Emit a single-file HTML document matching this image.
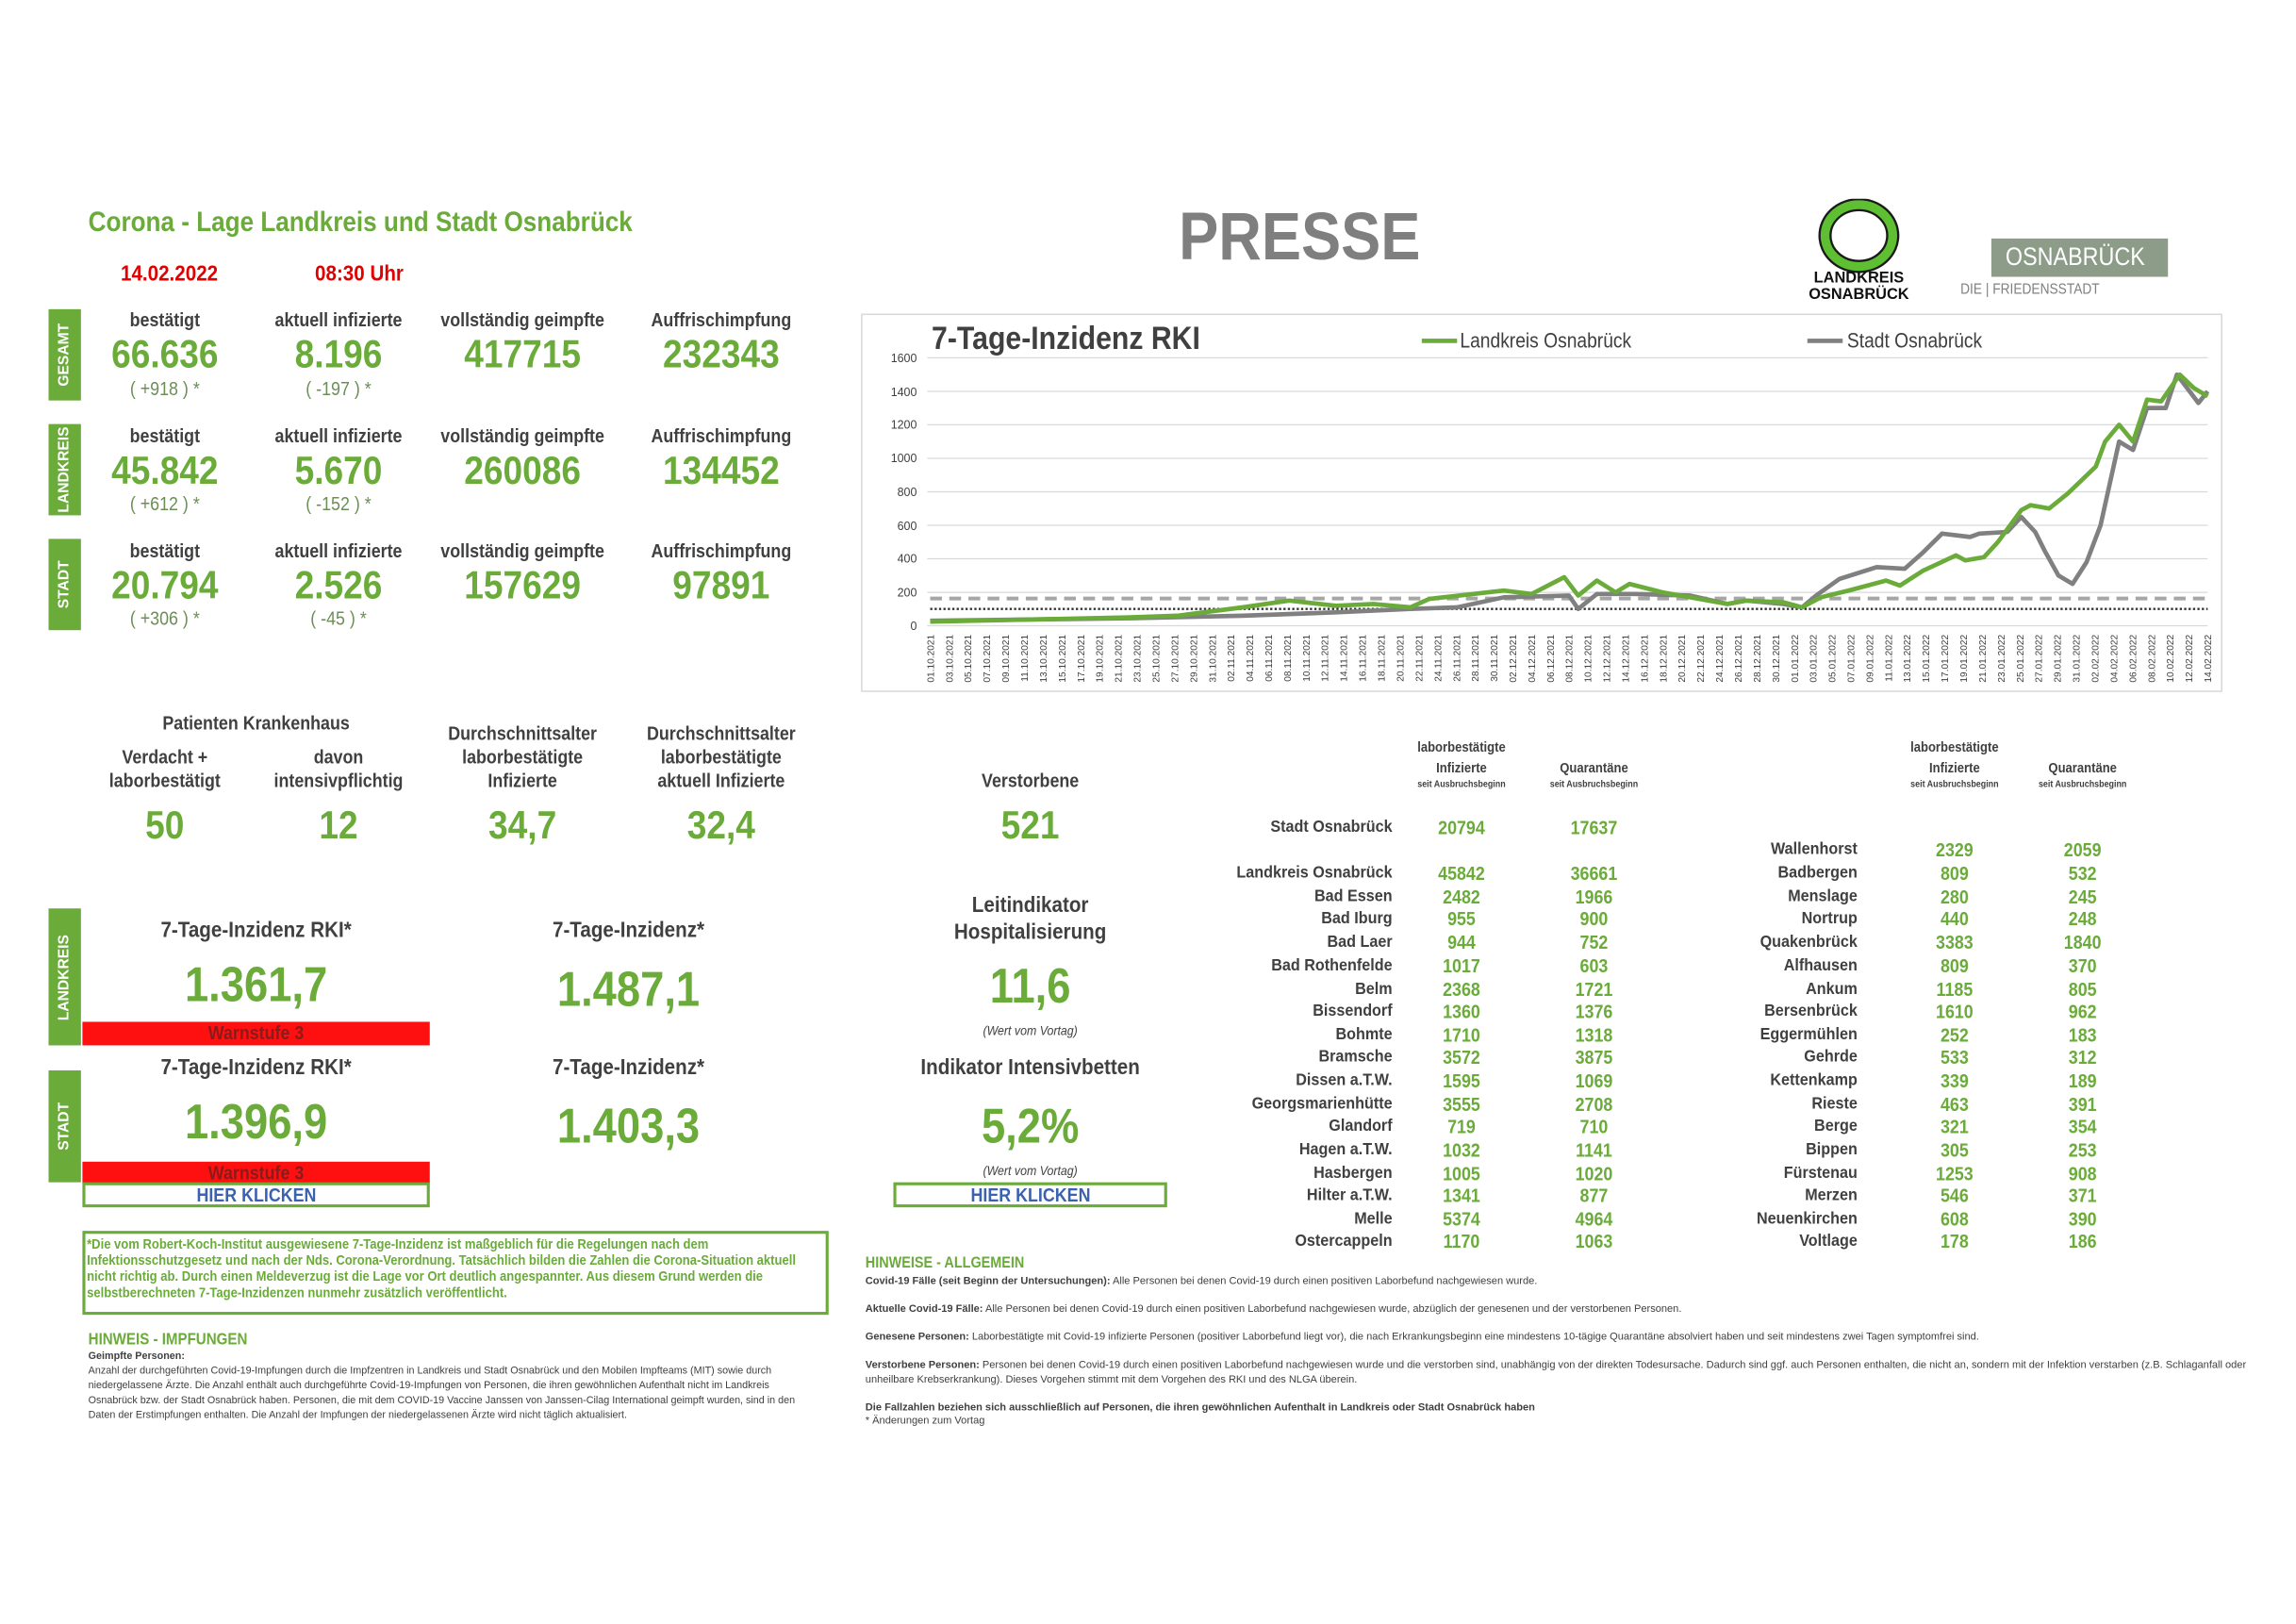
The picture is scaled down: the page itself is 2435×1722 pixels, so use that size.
<!DOCTYPE html>
<html><head><meta charset="utf-8"><style>
html,body{margin:0;padding:0;background:#fff;}
body{width:2435px;height:1722px;overflow:hidden;position:relative;}
#w{position:absolute;left:0;top:0;width:1560px;height:1103px;transform:scale(1.5609,1.5612);transform-origin:0 0;font-family:"Liberation Sans",Arial,sans-serif;}
.t{position:absolute;white-space:nowrap;transform:translate(-50%,-50%) scaleX(.88);}
.l{position:absolute;white-space:nowrap;transform:translate(0,-50%) scaleX(.88);transform-origin:0 50%;}
.r{position:absolute;white-space:nowrap;transform:translate(-100%,-50%) scaleX(.9);transform-origin:100% 50%;}
.g{color:#6aab3a;font-weight:bold;}
.h{color:#404040;font-weight:bold;font-size:13px;}
.v{color:#6aab3a;font-weight:bold;font-size:27px;}
.d{color:#6b8f55;font-size:13px;}
.bar{position:absolute;background:#6aab3a;width:22px;}
.bar span{position:absolute;left:50%;top:50%;transform:translate(-50%,-50%) rotate(-90deg);color:#fff;font-weight:bold;font-size:10px;white-space:nowrap;}
.n{color:#404040;font-weight:bold;font-size:11.5px;}
.nv{color:#6aab3a;font-weight:bold;font-size:13px;}
.sm{color:#404040;font-size:7.5px;}
.hk{position:absolute;border:2px solid #6aab3a;box-sizing:border-box;text-align:center;color:#3a62b0;font-weight:bold;font-size:13px;text-decoration:underline;line-height:13px;}
.red{position:absolute;background:#ff1010;text-align:center;color:#8b1a1a;font-weight:bold;font-size:13px;line-height:16px;}
</style></head><body><div id="w">

<div class="l g" style="left:60px;top:152px;font-size:19px;">Corona - Lage Landkreis und Stadt Osnabrück</div>
<div class="l" style="left:82px;top:186px;font-size:15px;color:#e00000;font-weight:bold;">14.02.2022</div>
<div class="l" style="left:214px;top:186px;font-size:15px;color:#e00000;font-weight:bold;">08:30 Uhr</div>

<div class="bar" style="left:33px;top:210px;height:62px;"><span>GESAMT</span></div>
<div class="bar" style="left:33px;top:288px;height:62px;"><span>LANDKREIS</span></div>
<div class="bar" style="left:33px;top:366px;height:62px;"><span>STADT</span></div>

<div class="t h" style="left:112px;top:217px;">bestätigt</div>
<div class="t h" style="left:230px;top:217px;">aktuell infizierte</div>
<div class="t h" style="left:355px;top:217px;">vollständig geimpfte</div>
<div class="t h" style="left:490px;top:217px;">Auffrischimpfung</div>
<div class="t v" style="left:112px;top:241px;">66.636</div>
<div class="t v" style="left:230px;top:241px;">8.196</div>
<div class="t v" style="left:355px;top:241px;">417715</div>
<div class="t v" style="left:490px;top:241px;">232343</div>
<div class="t d" style="left:112px;top:264px;">( +918 ) *</div>
<div class="t d" style="left:230px;top:264px;">( -197 ) *</div>

<div class="t h" style="left:112px;top:296px;">bestätigt</div>
<div class="t h" style="left:230px;top:296px;">aktuell infizierte</div>
<div class="t h" style="left:355px;top:296px;">vollständig geimpfte</div>
<div class="t h" style="left:490px;top:296px;">Auffrischimpfung</div>
<div class="t v" style="left:112px;top:320px;">45.842</div>
<div class="t v" style="left:230px;top:320px;">5.670</div>
<div class="t v" style="left:355px;top:320px;">260086</div>
<div class="t v" style="left:490px;top:320px;">134452</div>
<div class="t d" style="left:112px;top:342px;">( +612 ) *</div>
<div class="t d" style="left:230px;top:342px;">( -152 ) *</div>

<div class="t h" style="left:112px;top:374px;">bestätigt</div>
<div class="t h" style="left:230px;top:374px;">aktuell infizierte</div>
<div class="t h" style="left:355px;top:374px;">vollständig geimpfte</div>
<div class="t h" style="left:490px;top:374px;">Auffrischimpfung</div>
<div class="t v" style="left:112px;top:398px;">20.794</div>
<div class="t v" style="left:230px;top:398px;">2.526</div>
<div class="t v" style="left:355px;top:398px;">157629</div>
<div class="t v" style="left:490px;top:398px;">97891</div>
<div class="t d" style="left:112px;top:420px;">( +306 ) *</div>
<div class="t d" style="left:230px;top:420px;">( -45 ) *</div>

<div class="t" style="left:883px;top:160px;font-size:46px;font-weight:bold;color:#7f7f7f;">PRESSE</div>

<svg style="position:absolute;left:1225px;top:135px;" width="80" height="75">
<ellipse cx="38" cy="25" rx="23" ry="21" fill="none" stroke="#1a1a1a" stroke-width="9"/>
<ellipse cx="38" cy="25" rx="23" ry="21" fill="none" stroke="#5fbf32" stroke-width="6"/>
<text x="38" y="57" text-anchor="middle" font-family="Liberation Sans" font-weight="bold" font-size="10.5" fill="#111">LANDKREIS</text>
<text x="38" y="68" text-anchor="middle" font-family="Liberation Sans" font-weight="bold" font-size="10.5" fill="#111">OSNABRÜCK</text>
</svg>
<div style="position:absolute;left:1353px;top:162px;width:120px;height:26px;background:#8c9c88;"></div>
<div class="t" style="left:1410px;top:175px;font-size:17px;color:#fff;">OSNABRÜCK</div>
<div class="l" style="left:1332px;top:197px;font-size:10px;color:#808080;">DIE | FRIEDENSSTADT</div>

<!-- chart -->
<div style="position:absolute;left:585px;top:213px;width:925px;height:257px;border:1px solid #d9d9d9;box-sizing:border-box;"></div>
<div class="l" style="left:633px;top:230px;font-size:22px;font-weight:bold;color:#404040;">7-Tage-Inzidenz RKI</div>
<div style="position:absolute;left:966px;top:230px;width:24px;height:3px;background:#6aab3a;"></div>
<div class="l" style="left:992px;top:231px;font-size:14px;color:#404040;">Landkreis Osnabrück</div>
<div style="position:absolute;left:1228px;top:230px;width:24px;height:3px;background:#808080;"></div>
<div class="l" style="left:1255px;top:231px;font-size:14px;color:#404040;">Stadt Osnabrück</div>
<svg style="position:absolute;left:0;top:0;" width="1560" height="480" font-family="Liberation Sans">
<g stroke="#d9d9d9" stroke-width="0.8">
<line x1="630" x2="1500" y1="243" y2="243"/><line x1="630" x2="1500" y1="265.8" y2="265.8"/><line x1="630" x2="1500" y1="288.5" y2="288.5"/><line x1="630" x2="1500" y1="311.3" y2="311.3"/><line x1="630" x2="1500" y1="334" y2="334"/><line x1="630" x2="1500" y1="356.8" y2="356.8"/><line x1="630" x2="1500" y1="379.5" y2="379.5"/><line x1="630" x2="1500" y1="402.3" y2="402.3"/><line x1="630" x2="1500" y1="425" y2="425"/>
</g>
<g font-size="8" fill="#404040" text-anchor="end">
<text x="623" y="246">1600</text><text x="623" y="269">1400</text><text x="623" y="291">1200</text><text x="623" y="314">1000</text><text x="623" y="337">800</text><text x="623" y="360">600</text><text x="623" y="382">400</text><text x="623" y="405">200</text><text x="623" y="428">0</text>
</g>
<line x1="632" x2="1500" y1="406.5" y2="406.5" stroke="#a6a6a6" stroke-width="2.5" stroke-dasharray="8,5"/>
<line x1="632" x2="1500" y1="413.6" y2="413.6" stroke="#333" stroke-width="1.5" stroke-dasharray="1.5,1.5"/>
<polyline fill="none" stroke="#808080" stroke-width="3" stroke-linejoin="round" points="632,421.6 768.2,419.9 844.3,418.2 907.6,415.9 958.3,413.6 990,412.5 1021.7,405.7 1066,404.5 1072.3,413.6 1085,403.4 1110.4,403.4 1148.4,404.5 1173.7,410.2 1186.4,407.9 1211.7,410.2 1224.4,412.5 1233.9,404.5 1249.8,393.2 1275.1,385.2 1294.1,386.3 1306.8,375 1319.5,362.4 1338.5,364.7 1344.8,362.4 1363.8,361.3 1373.3,351.1 1382.8,361.3 1389.1,373.8 1398.6,390.9 1408.2,396.6 1417.7,381.8 1427.2,356.8 1439.8,299.9 1449.3,305.6 1458.8,277.1 1471.5,277.1 1479.1,254.4 1493.7,273.7 1500,265.8"/>
<polyline fill="none" stroke="#6aab3a" stroke-width="3" stroke-linejoin="round" points="632,422.2 768.2,419.3 799.9,418.2 844.3,412.5 875.9,407.9 907.6,411.4 933,410.2 958.3,412.5 971,406.8 1021.7,401.1 1040.7,403.4 1062.8,392 1072.3,404.5 1085,394.3 1097.7,402.3 1107.2,396.6 1129.4,402.3 1173.7,410.2 1186.4,407.9 1211.7,409.1 1224.4,412.5 1237.1,405.7 1256.1,401.1 1281.4,394.3 1290.9,397.7 1306.8,387.5 1329,377.2 1335.3,380.6 1348,378.4 1357.5,368.1 1373.3,346.5 1379.6,343.1 1392.3,345.4 1405,335.1 1424,316.9 1430.3,299.9 1439.8,288.5 1449.3,299.9 1458.8,271.4 1468.4,272.6 1481,254.4 1490.5,263.5 1500,269.2"/>
<g font-size="6.5" fill="#404040" text-anchor="end">
<text transform="translate(634.5,431) rotate(-90)">01.10.2021</text><text transform="translate(647.3,431) rotate(-90)">03.10.2021</text><text transform="translate(660,431) rotate(-90)">05.10.2021</text><text transform="translate(672.8,431) rotate(-90)">07.10.2021</text><text transform="translate(685.6,431) rotate(-90)">09.10.2021</text><text transform="translate(698.3,431) rotate(-90)">11.10.2021</text><text transform="translate(711.1,431) rotate(-90)">13.10.2021</text><text transform="translate(723.9,431) rotate(-90)">15.10.2021</text><text transform="translate(736.6,431) rotate(-90)">17.10.2021</text><text transform="translate(749.4,431) rotate(-90)">19.10.2021</text><text transform="translate(762.1,431) rotate(-90)">21.10.2021</text><text transform="translate(774.9,431) rotate(-90)">23.10.2021</text><text transform="translate(787.7,431) rotate(-90)">25.10.2021</text><text transform="translate(800.4,431) rotate(-90)">27.10.2021</text><text transform="translate(813.2,431) rotate(-90)">29.10.2021</text><text transform="translate(826,431) rotate(-90)">31.10.2021</text>
<text transform="translate(838.7,431) rotate(-90)">02.11.2021</text><text transform="translate(851.5,431) rotate(-90)">04.11.2021</text><text transform="translate(864.2,431) rotate(-90)">06.11.2021</text><text transform="translate(877,431) rotate(-90)">08.11.2021</text><text transform="translate(889.8,431) rotate(-90)">10.11.2021</text><text transform="translate(902.5,431) rotate(-90)">12.11.2021</text><text transform="translate(915.3,431) rotate(-90)">14.11.2021</text><text transform="translate(928,431) rotate(-90)">16.11.2021</text><text transform="translate(940.8,431) rotate(-90)">18.11.2021</text><text transform="translate(953.6,431) rotate(-90)">20.11.2021</text><text transform="translate(966.3,431) rotate(-90)">22.11.2021</text><text transform="translate(979.1,431) rotate(-90)">24.11.2021</text><text transform="translate(991.9,431) rotate(-90)">26.11.2021</text><text transform="translate(1004.6,431) rotate(-90)">28.11.2021</text><text transform="translate(1017.4,431) rotate(-90)">30.11.2021</text>
<text transform="translate(1030.1,431) rotate(-90)">02.12.2021</text><text transform="translate(1042.9,431) rotate(-90)">04.12.2021</text><text transform="translate(1055.7,431) rotate(-90)">06.12.2021</text><text transform="translate(1068.4,431) rotate(-90)">08.12.2021</text><text transform="translate(1081.2,431) rotate(-90)">10.12.2021</text><text transform="translate(1094,431) rotate(-90)">12.12.2021</text><text transform="translate(1106.7,431) rotate(-90)">14.12.2021</text><text transform="translate(1119.5,431) rotate(-90)">16.12.2021</text><text transform="translate(1132.2,431) rotate(-90)">18.12.2021</text><text transform="translate(1145,431) rotate(-90)">20.12.2021</text><text transform="translate(1157.8,431) rotate(-90)">22.12.2021</text><text transform="translate(1170.5,431) rotate(-90)">24.12.2021</text><text transform="translate(1183.3,431) rotate(-90)">26.12.2021</text><text transform="translate(1196,431) rotate(-90)">28.12.2021</text><text transform="translate(1208.8,431) rotate(-90)">30.12.2021</text>
<text transform="translate(1221.6,431) rotate(-90)">01.01.2022</text><text transform="translate(1234.3,431) rotate(-90)">03.01.2022</text><text transform="translate(1247.1,431) rotate(-90)">05.01.2022</text><text transform="translate(1259.9,431) rotate(-90)">07.01.2022</text><text transform="translate(1272.6,431) rotate(-90)">09.01.2022</text><text transform="translate(1285.4,431) rotate(-90)">11.01.2022</text><text transform="translate(1298.1,431) rotate(-90)">13.01.2022</text><text transform="translate(1310.9,431) rotate(-90)">15.01.2022</text><text transform="translate(1323.7,431) rotate(-90)">17.01.2022</text><text transform="translate(1336.4,431) rotate(-90)">19.01.2022</text><text transform="translate(1349.2,431) rotate(-90)">21.01.2022</text><text transform="translate(1362,431) rotate(-90)">23.01.2022</text><text transform="translate(1374.7,431) rotate(-90)">25.01.2022</text><text transform="translate(1387.5,431) rotate(-90)">27.01.2022</text><text transform="translate(1400.2,431) rotate(-90)">29.01.2022</text><text transform="translate(1413,431) rotate(-90)">31.01.2022</text>
<text transform="translate(1425.8,431) rotate(-90)">02.02.2022</text><text transform="translate(1438.5,431) rotate(-90)">04.02.2022</text><text transform="translate(1451.3,431) rotate(-90)">06.02.2022</text><text transform="translate(1464.1,431) rotate(-90)">08.02.2022</text><text transform="translate(1476.8,431) rotate(-90)">10.02.2022</text><text transform="translate(1489.6,431) rotate(-90)">12.02.2022</text><text transform="translate(1502.3,431) rotate(-90)">14.02.2022</text>
</g>
</svg>

<!-- hospital row -->
<div class="t h" style="left:174px;top:491px;">Patienten Krankenhaus</div>
<div class="t h" style="left:112px;top:514px;">Verdacht +</div>
<div class="t h" style="left:112px;top:530px;">laborbestätigt</div>
<div class="t h" style="left:230px;top:514px;">davon</div>
<div class="t h" style="left:230px;top:530px;">intensivpflichtig</div>
<div class="t h" style="left:355px;top:498px;">Durchschnittsalter</div>
<div class="t h" style="left:355px;top:514px;">laborbestätigte</div>
<div class="t h" style="left:355px;top:530px;">Infizierte</div>
<div class="t h" style="left:490px;top:498px;">Durchschnittsalter</div>
<div class="t h" style="left:490px;top:514px;">laborbestätigte</div>
<div class="t h" style="left:490px;top:530px;">aktuell Infizierte</div>
<div class="t h" style="left:700px;top:530px;">Verstorbene</div>
<div class="t v" style="left:112px;top:561px;">50</div>
<div class="t v" style="left:230px;top:561px;">12</div>
<div class="t v" style="left:355px;top:561px;">34,7</div>
<div class="t v" style="left:490px;top:561px;">32,4</div>
<div class="t v" style="left:700px;top:561px;">521</div>

<div class="bar" style="left:33px;top:617px;height:93px;"><span>LANDKREIS</span></div>
<div class="bar" style="left:33px;top:727px;height:76px;"><span>STADT</span></div>

<div class="t h" style="left:174px;top:632px;font-size:15px;">7-Tage-Inzidenz RKI*</div>
<div class="t v" style="left:174px;top:669px;font-size:33px;">1.361,7</div>
<div class="red" style="left:56px;top:694px;width:236px;height:16px;"><span style="display:inline-block;transform:scaleX(.88);">Warnstufe 3</span></div>
<div class="t h" style="left:427px;top:632px;font-size:15px;">7-Tage-Inzidenz*</div>
<div class="t v" style="left:427px;top:672px;font-size:33px;">1.487,1</div>
<div class="t h" style="left:700px;top:615px;font-size:15px;">Leitindikator</div>
<div class="t h" style="left:700px;top:633px;font-size:15px;">Hospitalisierung</div>
<div class="t v" style="left:700px;top:670px;font-size:33px;">11,6</div>
<div class="t" style="left:700px;top:700px;font-size:9px;font-style:italic;color:#404040;">(Wert vom Vortag)</div>

<div class="t h" style="left:174px;top:725px;font-size:15px;">7-Tage-Inzidenz RKI*</div>
<div class="t v" style="left:174px;top:762px;font-size:33px;">1.396,9</div>
<div class="red" style="left:56px;top:789px;width:236px;height:15px;line-height:15px;"><span style="display:inline-block;transform:scaleX(.88);">Warnstufe 3</span></div>
<div class="hk" style="left:56px;top:803px;width:236px;height:17px;"><span style="display:inline-block;transform:scaleX(.88);">HIER KLICKEN</span></div>
<div class="t h" style="left:427px;top:725px;font-size:15px;">7-Tage-Inzidenz*</div>
<div class="t v" style="left:427px;top:765px;font-size:33px;">1.403,3</div>
<div class="t h" style="left:700px;top:725px;font-size:15px;">Indikator Intensivbetten</div>
<div class="t v" style="left:700px;top:765px;font-size:33px;">5,2%</div>
<div class="t" style="left:700px;top:795px;font-size:9px;font-style:italic;color:#404040;">(Wert vom Vortag)</div>
<div class="hk" style="left:607px;top:803px;width:186px;height:17px;"><span style="display:inline-block;transform:scaleX(.88);">HIER KLICKEN</span></div>

<div style="position:absolute;left:56px;top:836px;width:507px;height:57px;border:2px solid #6aab3a;box-sizing:border-box;"></div>
<div style="position:absolute;left:59px;top:840px;white-space:nowrap;font-size:9.6px;line-height:11px;color:#6aab3a;font-weight:bold;transform:scaleX(.87);transform-origin:0 0;">*Die vom Robert-Koch-Institut ausgewiesene 7-Tage-Inzidenz ist maßgeblich für die Regelungen nach dem<br>Infektionsschutzgesetz und nach der Nds. Corona-Verordnung. Tatsächlich bilden die Zahlen die Corona-Situation aktuell<br>nicht richtig ab. Durch einen Meldeverzug ist die Lage vor Ort deutlich angespannter. Aus diesem Grund werden die<br>selbstberechneten 7-Tage-Inzidenzen nunmehr zusätzlich veröffentlicht.</div>

<div class="l g" style="left:60px;top:910px;font-size:11px;">HINWEIS - IMPFUNGEN</div>
<div style="position:absolute;left:60px;top:916px;white-space:nowrap;font-size:7.3px;line-height:10px;color:#404040;transform:scaleX(.945);transform-origin:0 0;"><b>Geimpfte Personen:</b><br>Anzahl der durchgeführten Covid-19-Impfungen durch die Impfzentren in Landkreis und Stadt Osnabrück und den Mobilen Impfteams (MIT) sowie durch<br>niedergelassene Ärzte. Die Anzahl enthält auch durchgeführte Covid-19-Impfungen von Personen, die ihren gewöhnlichen Aufenthalt nicht im Landkreis<br>Osnabrück bzw. der Stadt Osnabrück haben. Personen, die mit dem COVID-19 Vaccine Janssen von Janssen-Cilag International geimpft wurden, sind in den<br>Daten der Erstimpfungen enthalten. Die Anzahl der Impfungen der niedergelassenen Ärzte wird nicht täglich aktualisiert.</div>

<div class="l g" style="left:588px;top:858px;font-size:10.5px;">HINWEISE - ALLGEMEIN</div>
<div style="position:absolute;left:588px;top:865px;white-space:nowrap;font-size:7.2px;line-height:9.5px;color:#404040;transform:scaleX(.985);transform-origin:0 0;">
<b>Covid-19 Fälle (seit Beginn der Untersuchungen):</b> Alle Personen bei denen Covid-19 durch einen positiven Laborbefund nachgewiesen wurde.<br><br>
<b>Aktuelle Covid-19 Fälle:</b> Alle Personen bei denen Covid-19 durch einen positiven Laborbefund nachgewiesen wurde, abzüglich der genesenen und der verstorbenen Personen.<br><br>
<b>Genesene Personen:</b> Laborbestätigte mit Covid-19 infizierte Personen (positiver Laborbefund liegt vor), die nach Erkrankungsbeginn eine mindestens 10-tägige Quarantäne absolviert haben und seit mindestens zwei Tagen symptomfrei sind.<br><br>
<b>Verstorbene Personen:</b> Personen bei denen Covid-19 durch einen positiven Laborbefund nachgewiesen wurde und die verstorben sind, unabhängig von der direkten Todesursache. Dadurch sind ggf. auch Personen enthalten, die nicht an, sondern mit der Infektion verstarben (z.B. Schlaganfall oder<br>unheilbare Krebserkrankung). Dieses Vorgehen stimmt mit dem Vorgehen des RKI und des NLGA überein.<br><br>
<b>Die Fallzahlen beziehen sich ausschließlich auf Personen, die ihren gewöhnlichen Aufenthalt in Landkreis oder Stadt Osnabrück haben</b><br>* Änderungen zum Vortag</div>

<!-- tables -->
<div class="t n" style="left:993px;top:508px;font-size:9.5px;">laborbestätigte</div>
<div class="t n" style="left:993px;top:522px;font-size:9.5px;">Infizierte</div>
<div class="t sm" style="left:993px;top:533px;font-weight:bold;font-size:6.5px;">seit Ausbruchsbeginn</div>
<div class="t n" style="left:1083px;top:522px;font-size:9.5px;">Quarantäne</div>
<div class="t sm" style="left:1083px;top:533px;font-weight:bold;font-size:6.5px;">seit Ausbruchsbeginn</div>
<div class="t n" style="left:1328px;top:508px;font-size:9.5px;">laborbestätigte</div>
<div class="t n" style="left:1328px;top:522px;font-size:9.5px;">Infizierte</div>
<div class="t sm" style="left:1328px;top:533px;font-weight:bold;font-size:6.5px;">seit Ausbruchsbeginn</div>
<div class="t n" style="left:1415px;top:522px;font-size:9.5px;">Quarantäne</div>
<div class="t sm" style="left:1415px;top:533px;font-weight:bold;font-size:6.5px;">seit Ausbruchsbeginn</div>

<div class="r n" style="left:946px;top:562px;">Stadt Osnabrück</div><div class="t nv" style="left:993px;top:562px;">20794</div><div class="t nv" style="left:1083px;top:562px;">17637</div>
<div class="r n" style="left:946px;top:593px;">Landkreis Osnabrück</div><div class="t nv" style="left:993px;top:593px;">45842</div><div class="t nv" style="left:1083px;top:593px;">36661</div>
<div class="r n" style="left:946px;top:609px;">Bad Essen</div><div class="t nv" style="left:993px;top:609px;">2482</div><div class="t nv" style="left:1083px;top:609px;">1966</div>
<div class="r n" style="left:946px;top:624px;">Bad Iburg</div><div class="t nv" style="left:993px;top:624px;">955</div><div class="t nv" style="left:1083px;top:624px;">900</div>
<div class="r n" style="left:946px;top:640px;">Bad Laer</div><div class="t nv" style="left:993px;top:640px;">944</div><div class="t nv" style="left:1083px;top:640px;">752</div>
<div class="r n" style="left:946px;top:656px;">Bad Rothenfelde</div><div class="t nv" style="left:993px;top:656px;">1017</div><div class="t nv" style="left:1083px;top:656px;">603</div>
<div class="r n" style="left:946px;top:672px;">Belm</div><div class="t nv" style="left:993px;top:672px;">2368</div><div class="t nv" style="left:1083px;top:672px;">1721</div>
<div class="r n" style="left:946px;top:687px;">Bissendorf</div><div class="t nv" style="left:993px;top:687px;">1360</div><div class="t nv" style="left:1083px;top:687px;">1376</div>
<div class="r n" style="left:946px;top:703px;">Bohmte</div><div class="t nv" style="left:993px;top:703px;">1710</div><div class="t nv" style="left:1083px;top:703px;">1318</div>
<div class="r n" style="left:946px;top:718px;">Bramsche</div><div class="t nv" style="left:993px;top:718px;">3572</div><div class="t nv" style="left:1083px;top:718px;">3875</div>
<div class="r n" style="left:946px;top:734px;">Dissen a.T.W.</div><div class="t nv" style="left:993px;top:734px;">1595</div><div class="t nv" style="left:1083px;top:734px;">1069</div>
<div class="r n" style="left:946px;top:750px;">Georgsmarienhütte</div><div class="t nv" style="left:993px;top:750px;">3555</div><div class="t nv" style="left:1083px;top:750px;">2708</div>
<div class="r n" style="left:946px;top:765px;">Glandorf</div><div class="t nv" style="left:993px;top:765px;">719</div><div class="t nv" style="left:1083px;top:765px;">710</div>
<div class="r n" style="left:946px;top:781px;">Hagen a.T.W.</div><div class="t nv" style="left:993px;top:781px;">1032</div><div class="t nv" style="left:1083px;top:781px;">1141</div>
<div class="r n" style="left:946px;top:797px;">Hasbergen</div><div class="t nv" style="left:993px;top:797px;">1005</div><div class="t nv" style="left:1083px;top:797px;">1020</div>
<div class="r n" style="left:946px;top:812px;">Hilter a.T.W.</div><div class="t nv" style="left:993px;top:812px;">1341</div><div class="t nv" style="left:1083px;top:812px;">877</div>
<div class="r n" style="left:946px;top:828px;">Melle</div><div class="t nv" style="left:993px;top:828px;">5374</div><div class="t nv" style="left:1083px;top:828px;">4964</div>
<div class="r n" style="left:946px;top:843px;">Ostercappeln</div><div class="t nv" style="left:993px;top:843px;">1170</div><div class="t nv" style="left:1083px;top:843px;">1063</div>

<div class="r n" style="left:1262px;top:577px;">Wallenhorst</div><div class="t nv" style="left:1328px;top:577px;">2329</div><div class="t nv" style="left:1415px;top:577px;">2059</div>
<div class="r n" style="left:1262px;top:593px;">Badbergen</div><div class="t nv" style="left:1328px;top:593px;">809</div><div class="t nv" style="left:1415px;top:593px;">532</div>
<div class="r n" style="left:1262px;top:609px;">Menslage</div><div class="t nv" style="left:1328px;top:609px;">280</div><div class="t nv" style="left:1415px;top:609px;">245</div>
<div class="r n" style="left:1262px;top:624px;">Nortrup</div><div class="t nv" style="left:1328px;top:624px;">440</div><div class="t nv" style="left:1415px;top:624px;">248</div>
<div class="r n" style="left:1262px;top:640px;">Quakenbrück</div><div class="t nv" style="left:1328px;top:640px;">3383</div><div class="t nv" style="left:1415px;top:640px;">1840</div>
<div class="r n" style="left:1262px;top:656px;">Alfhausen</div><div class="t nv" style="left:1328px;top:656px;">809</div><div class="t nv" style="left:1415px;top:656px;">370</div>
<div class="r n" style="left:1262px;top:672px;">Ankum</div><div class="t nv" style="left:1328px;top:672px;">1185</div><div class="t nv" style="left:1415px;top:672px;">805</div>
<div class="r n" style="left:1262px;top:687px;">Bersenbrück</div><div class="t nv" style="left:1328px;top:687px;">1610</div><div class="t nv" style="left:1415px;top:687px;">962</div>
<div class="r n" style="left:1262px;top:703px;">Eggermühlen</div><div class="t nv" style="left:1328px;top:703px;">252</div><div class="t nv" style="left:1415px;top:703px;">183</div>
<div class="r n" style="left:1262px;top:718px;">Gehrde</div><div class="t nv" style="left:1328px;top:718px;">533</div><div class="t nv" style="left:1415px;top:718px;">312</div>
<div class="r n" style="left:1262px;top:734px;">Kettenkamp</div><div class="t nv" style="left:1328px;top:734px;">339</div><div class="t nv" style="left:1415px;top:734px;">189</div>
<div class="r n" style="left:1262px;top:750px;">Rieste</div><div class="t nv" style="left:1328px;top:750px;">463</div><div class="t nv" style="left:1415px;top:750px;">391</div>
<div class="r n" style="left:1262px;top:765px;">Berge</div><div class="t nv" style="left:1328px;top:765px;">321</div><div class="t nv" style="left:1415px;top:765px;">354</div>
<div class="r n" style="left:1262px;top:781px;">Bippen</div><div class="t nv" style="left:1328px;top:781px;">305</div><div class="t nv" style="left:1415px;top:781px;">253</div>
<div class="r n" style="left:1262px;top:797px;">Fürstenau</div><div class="t nv" style="left:1328px;top:797px;">1253</div><div class="t nv" style="left:1415px;top:797px;">908</div>
<div class="r n" style="left:1262px;top:812px;">Merzen</div><div class="t nv" style="left:1328px;top:812px;">546</div><div class="t nv" style="left:1415px;top:812px;">371</div>
<div class="r n" style="left:1262px;top:828px;">Neuenkirchen</div><div class="t nv" style="left:1328px;top:828px;">608</div><div class="t nv" style="left:1415px;top:828px;">390</div>
<div class="r n" style="left:1262px;top:843px;">Voltlage</div><div class="t nv" style="left:1328px;top:843px;">178</div><div class="t nv" style="left:1415px;top:843px;">186</div>

</div></body></html>
